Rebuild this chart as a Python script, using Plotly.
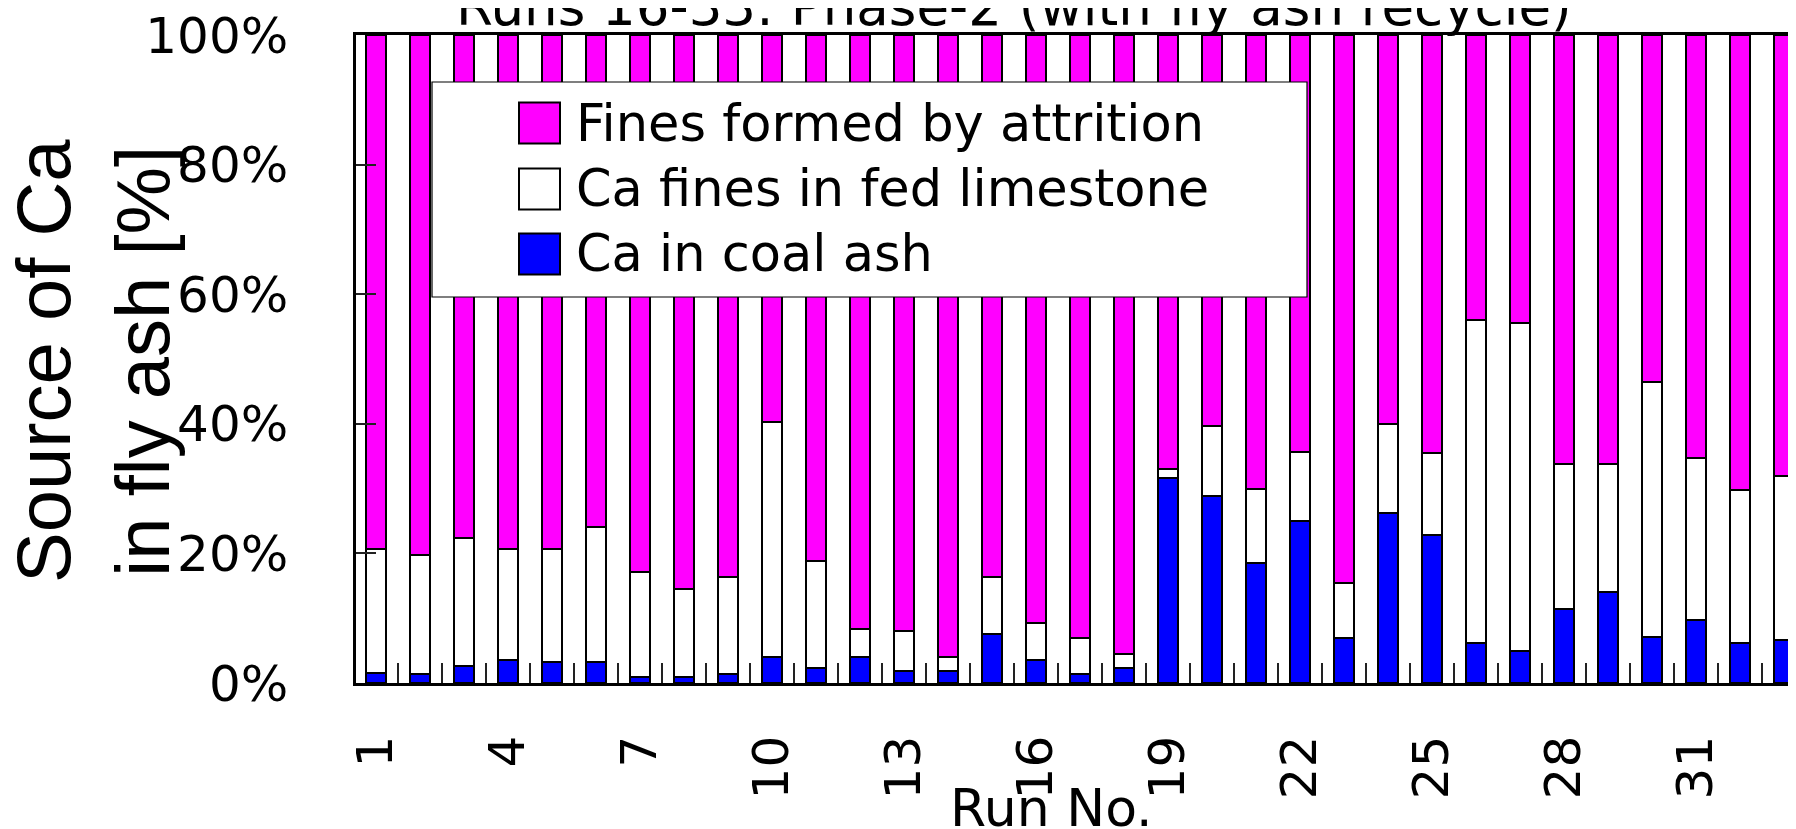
import plotly.graph_objects as go

runs = list(range(1, 34))
tick_runs = [1, 4, 7, 10, 13, 16, 19, 22, 25, 28, 31]
tick_labels = [str(r) for r in tick_runs]
y_ticks = [0, 20, 40, 60, 80, 100]
y_tick_labels = ["0%", "20%", "40%", "60%", "80%", "100%"]

series_names = ["Fines formed by attrition", "Ca fines in fed limestone", "Ca in coal ash"]
series_colors = ["#FF00FF", "#FFFFFF", "#0000FF"]

# Ca in coal ash [%]
coal_ash = [1.5, 1.4, 2.7, 3.6, 3.2, 3.2, 1.0, 1.0, 1.4, 4.0, 2.3, 4.0, 1.8, 1.8, 7.5, 3.5, 1.4,
            2.3, 31.6, 28.9, 18.5, 25.0, 7.0, 26.3, 22.8, 6.2, 4.9, 11.4, 14.0, 7.1, 9.7, 6.2, 6.6]
# Ca fines in fed limestone [%]
fed_limestone = [19.2, 18.4, 19.7, 17.1, 17.5, 20.9, 16.1, 13.5, 14.9, 36.3, 16.5, 4.3, 6.2, 2.2, 8.8,
                 5.8, 5.6, 2.1, 1.4, 10.7, 11.4, 10.6, 8.5, 13.6, 12.7, 49.8, 50.7, 22.4, 19.8, 39.4,
                 25.0, 23.6, 25.3]
# Fines formed by attrition [%]
attrition = [79.3, 80.2, 77.6, 79.3, 79.3, 75.9, 82.9, 85.5, 83.7, 59.7, 81.2, 91.7, 92.0, 96.0, 83.7,
             90.7, 93.0, 95.6, 67.0, 60.4, 70.1, 64.4, 84.5, 60.1, 64.5, 44.0, 44.4, 66.2, 66.2, 53.5,
             65.3, 70.2, 68.1]

title_text = "Runs 16-33: Phase-2 (with fly ash recycle)"
x_title = "Run No."
y_title = "Source of Ca<br>in fly ash [%]"

FONT = "DejaVu Sans"
W, H = 1796, 829
OFF = 8  # page offset of the figure inside the browser window
L, T, B = 348, 27, 154

fig = go.Figure()
stack = [(series_names[2], coal_ash, series_colors[2]),
         (series_names[1], fed_limestone, series_colors[1]),
         (series_names[0], attrition, series_colors[0])]
for name, vals, col in stack:
    fig.add_trace(go.Bar(x=runs, y=vals, name=name, width=0.47,
                         marker=dict(color=col, line=dict(color="black", width=2)),
                         showlegend=False))

fig.update_layout(
    barmode="stack",
    width=W, height=H,
    margin=dict(l=L, r=0, t=T, b=B, pad=0, autoexpand=False),
    paper_bgcolor="white", plot_bgcolor="white",
    font=dict(family=FONT, color="black"),
)

fig.update_xaxes(
    range=[0.545, 33.455], automargin=False,
    tickvals=tick_runs, ticktext=tick_labels, tickangle=-90,
    ticks="", tickfont=dict(family=FONT, size=50, color="black"),
    ticklabelstandoff=30, ticklabeloverflow="allow",
    minor=dict(tick0=0.5, dtick=1, ticks="inside", ticklen=20, tickwidth=1.5, tickcolor="#222"),
    showline=True, linecolor="black", linewidth=2.5, mirror=True,
    showgrid=False, zeroline=False,
)
fig.update_yaxes(
    range=[0, 100], automargin=False,
    tickvals=y_ticks, ticktext=y_tick_labels,
    ticks="inside", ticklen=20, tickwidth=1.5, tickcolor="#222",
    tickfont=dict(family=FONT, size=50, color="black"),
    ticklabelstandoff=55, ticklabeloverflow="allow",
    showline=True, linecolor="black", linewidth=2.5,
    showgrid=False, zeroline=False,
)

pw = W - L
ph = H - T - B
def px(xs):
    return (xs - OFF - L) / pw
def py(ys):
    return (H - B - (ys - OFF)) / ph

# legend box
shapes = [dict(type="rect", xref="paper", yref="paper",
               x0=px(432), x1=px(1307), y0=py(297), y1=py(82),
               fillcolor="white", line=dict(color="black", width=1.2), layer="above")]
annotations = []
row_centers = [123, 189, 254]
for name, col, yc in zip(series_names, series_colors, row_centers):
    shapes.append(dict(type="rect", xref="paper", yref="paper",
                       x0=px(519), x1=px(560), y0=py(yc + 20.5), y1=py(yc - 20.5),
                       fillcolor=col, line=dict(color="black", width=2), layer="above"))
    annotations.append(dict(xref="paper", yref="paper", x=px(574), y=py(yc),
                            xanchor="left", yanchor="middle", text=name, showarrow=False,
                            font=dict(family=FONT, size=51, color="black")))

annotations.append(dict(xref="paper", yref="paper", x=px(1014), y=1.0, yshift=-4,
                        xanchor="center", yanchor="bottom", text=title_text, showarrow=False,
                        font=dict(family=FONT, size=53, color="black")))
annotations.append(dict(xref="paper", yref="paper", x=px(1051), y=py(776),
                        xanchor="center", yanchor="top", text=x_title, showarrow=False,
                        font=dict(family=FONT, size=52, color="black")))
annotations.append(dict(xref="paper", yref="paper", x=px(93), y=py(361),
                        xanchor="center", yanchor="middle", text=y_title, textangle=-90,
                        showarrow=False,
                        font=dict(family="Liberation Sans", size=76, color="black")))

fig.update_layout(shapes=shapes, annotations=annotations)
fig.write_html("out.html")
